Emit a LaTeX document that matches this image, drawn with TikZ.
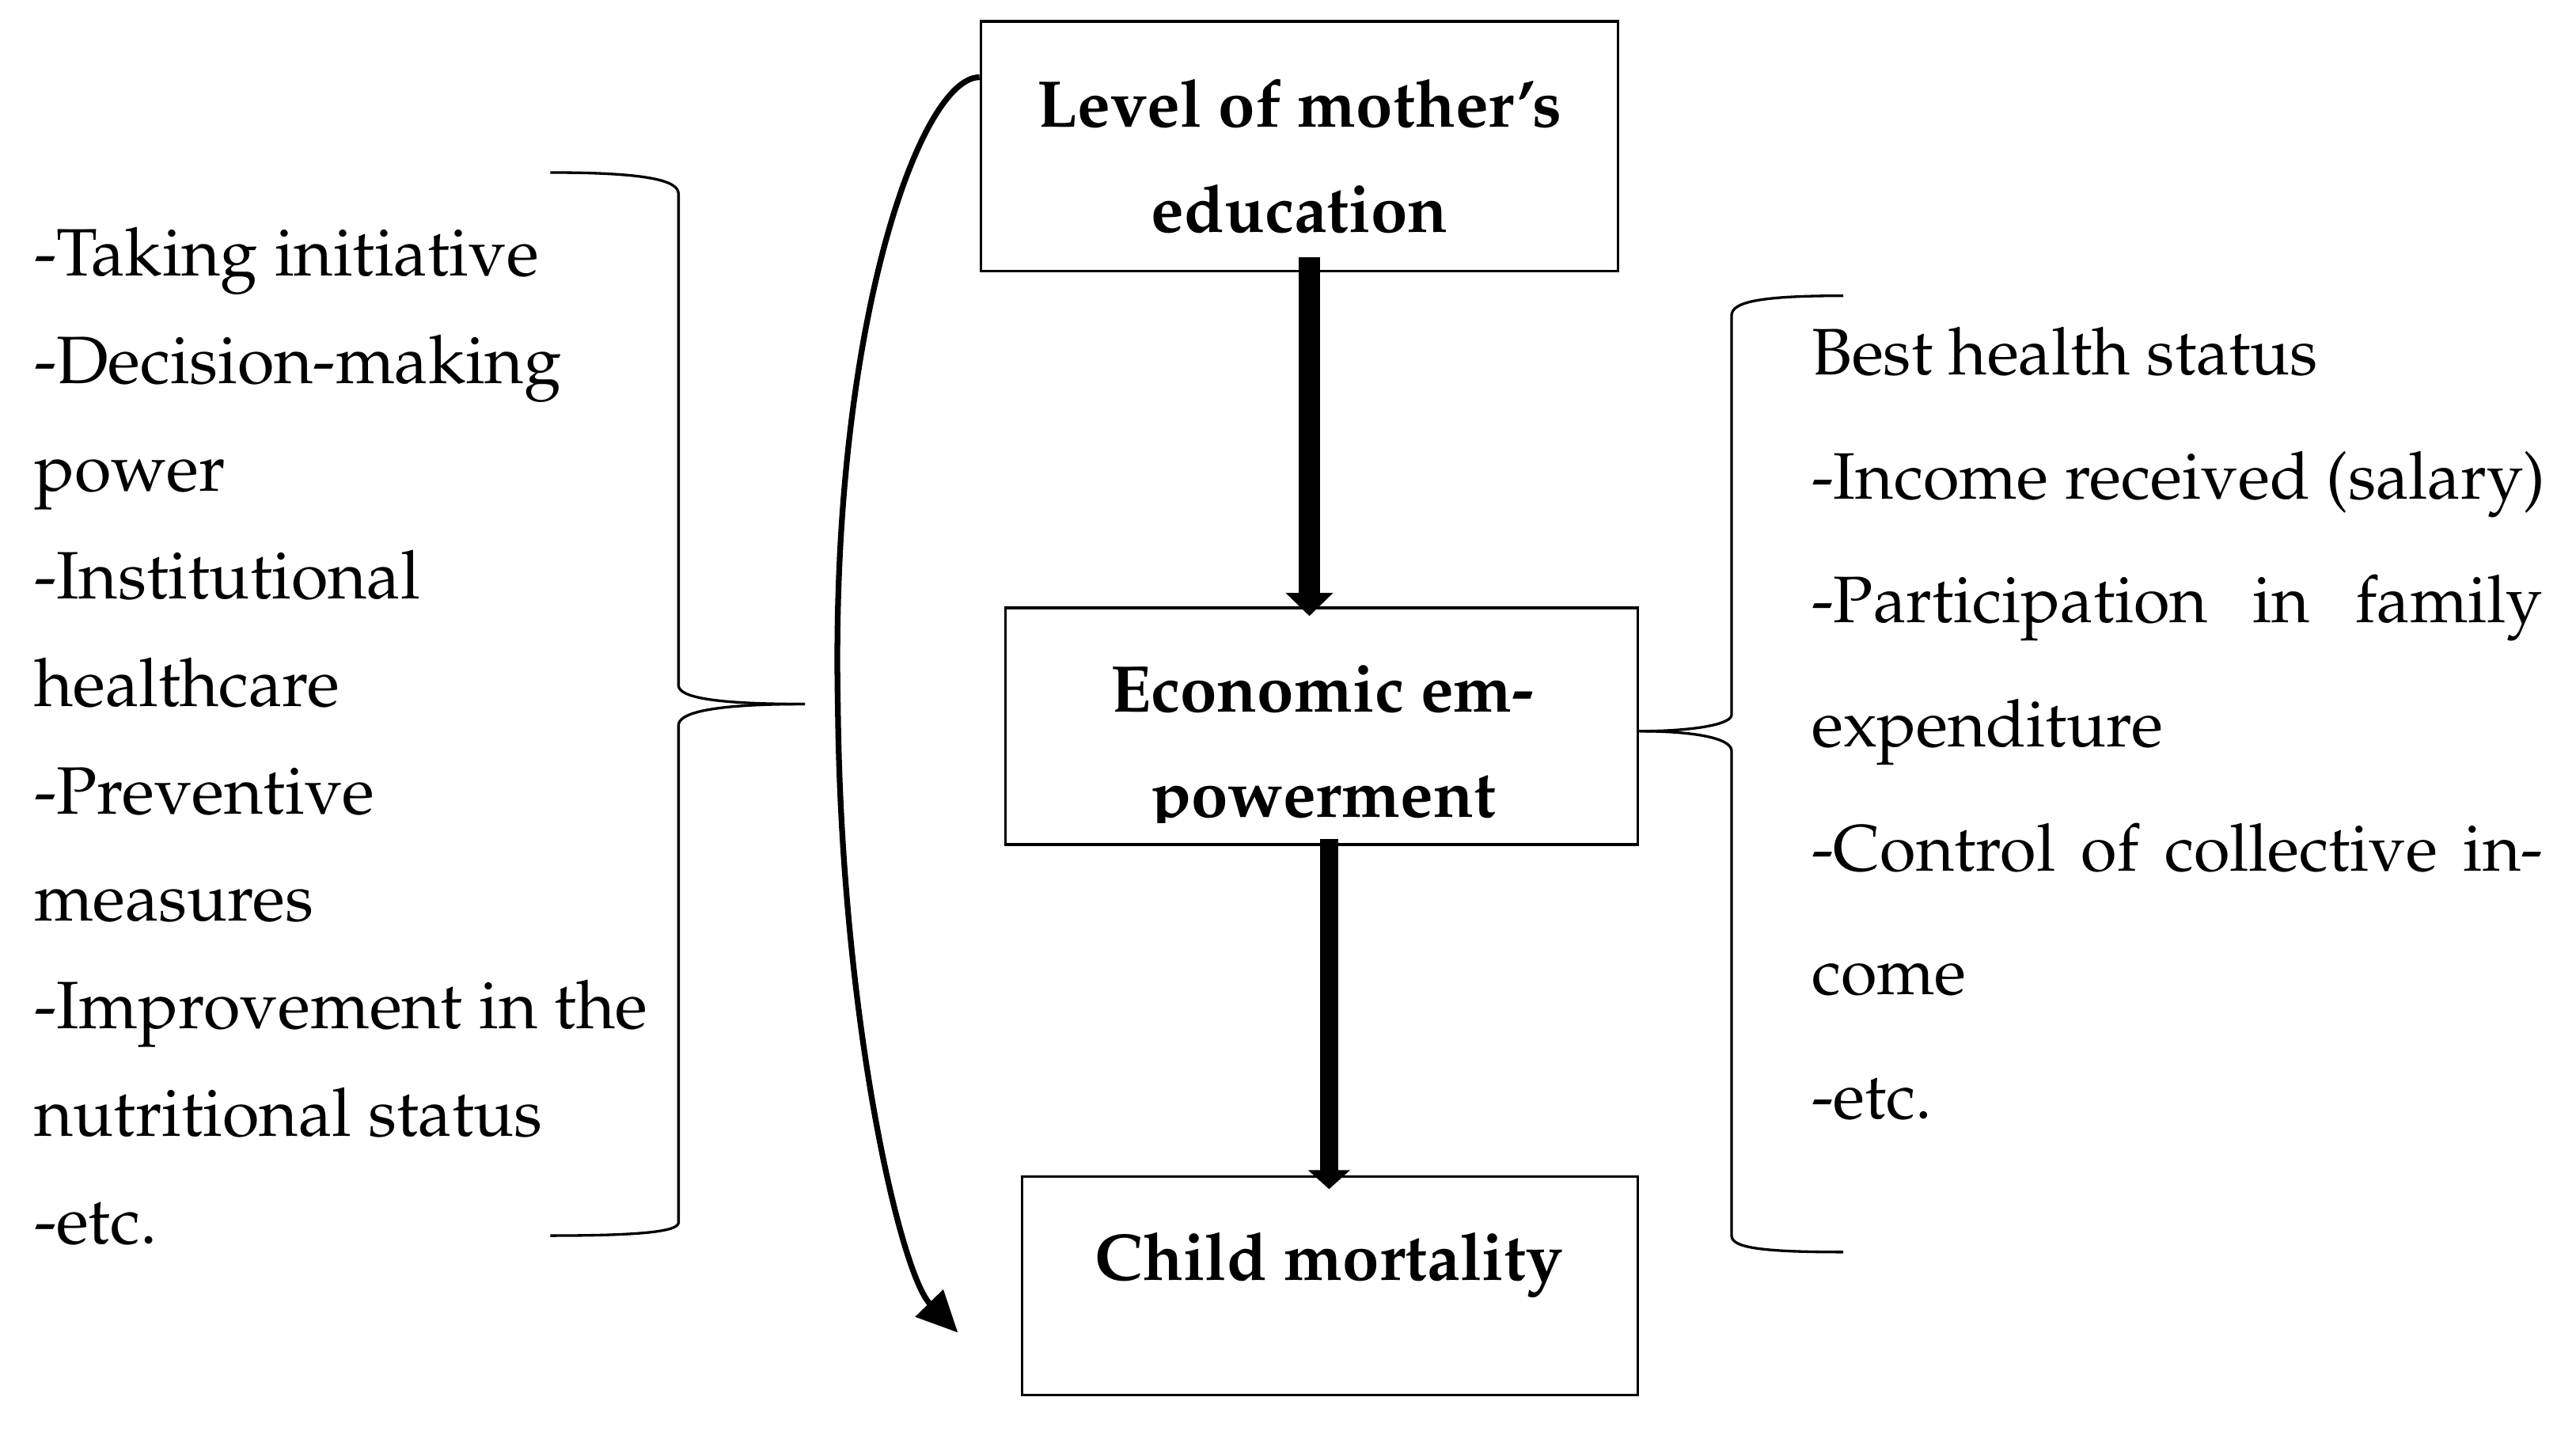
\documentclass[tikz,border=0pt]{standalone}
\usepackage[T1]{fontenc}
\renewcommand{\rmdefault}{ppl}
\usetikzlibrary{arrows.meta}

\tikzset{every picture/.style={line width=0.8pt}}
\tikzset{
  box/.style={draw, line width=0.8pt, inner sep=0pt},
  boxtext/.style={anchor=base, inner sep=0pt, font=\fontsize{20.1pt}{24pt}\selectfont\bfseries},
  itemtext/.style={anchor=base west, inner sep=0pt, font=\fontsize{#1}{24pt}\selectfont},
  fatarrow/.style n args={3}{line width=#1, -{Triangle[width=#2,length=#3]}},
  curvearrow/.style={line width=1.75pt, -{Triangle[width=11.5pt,length=12.5pt]}},
  brace/.style={line width=0.8pt}
}

\begin{document}
\begin{tikzpicture}[x=0.5pt,y=0.5pt,yscale=-1,xscale=1]
\useasboundingbox (0,0) rectangle (1568,873);

%Shape: Rectangle
\node[box, minimum width=194pt, minimum height=76pt] (edu) at (791,89) {};
\node[box, minimum width=192.5pt, minimum height=72pt] (emp) at (804.5,442) {};
\node[box, minimum width=187.5pt, minimum height=66.5pt] (mort) at (809.5,782.5) {};

% Text Node
\node[boxtext] (edu1) at (791,77.2) {Level of mother's};
\node[boxtext] (edu2) at (791,141.5) {education};
\node[boxtext] (emp1) at (805,433.3) {Economic em-};
\begin{scope}
\clip (612,370) rectangle (997,500.5);
\node[boxtext] (emp2) at (805.5,497.6) {powerment};
\end{scope}
\node[boxtext] (mort1) at (809,779.4) {Child mortality};

%Straight Lines (y is flipped, so shifts are in picture units)
\draw[fatarrow={6.5pt}{14pt}{7pt}] ([xshift=3pt,yshift=-4.65pt]edu.south) -- ([xshift=-3.75pt,yshift=2.85pt]emp.north);
\draw[fatarrow={5.5pt}{12.4pt}{5.75pt}] ([xshift=2.25pt,yshift=-2.2pt]emp.south) -- ([xshift=-0.25pt,yshift=4.25pt]mort.north);

%Curve Lines
\coordinate (curveend) at (583,811);
\draw[curvearrow] ([yshift=-21pt]edu.west) .. controls (560,47) and (505,200) .. (510,430) .. controls (512,620) and (548,775) .. (curveend);

%Shape: Brace
\draw[brace] (335,105) .. controls (395,105) and (413,110) .. (413,118) -- (413,417) .. controls (413,424) and (432,428.5) .. (490,428.5);
\draw[brace] (490,428.5) .. controls (432,428.5) and (413,434) .. (413,441.5) -- (413,744) .. controls (413,749) and (395,752) .. (335,752);
\draw[brace] (1122,180) .. controls (1070,180) and (1054,184) .. (1054,192) -- (1054,435) .. controls (1054,441) and (1030,445) .. ([yshift=1.5pt]emp.east);
\draw[brace] ([yshift=1.5pt]emp.east) .. controls (1030,445) and (1054,449) .. (1054,457) -- (1054,752) .. controls (1054,759) and (1070,762) .. (1122,762);

% Text Node
\foreach \txt [count=\i from 0] in {-Taking initiative, -Decision-making, power, -Institutional, healthcare, -Preventive, measures, -Improvement in the, nutritional status, -etc.}
  \node[itemtext=20.4pt] (left\i) at (20,167.7+65.5*\i) {\txt};

\foreach \txt [count=\i from 0] in {Best health status, -Income received (salary), {\makebox[222.5pt][s]{-Participation in family}}, expenditure, {\makebox[222.5pt][s]{-Control of collective in-}}, come, -etc.}
  \node[itemtext=20pt] (right\i) at (1102,228+75.5*\i) {\txt};

\end{tikzpicture}
\end{document}
